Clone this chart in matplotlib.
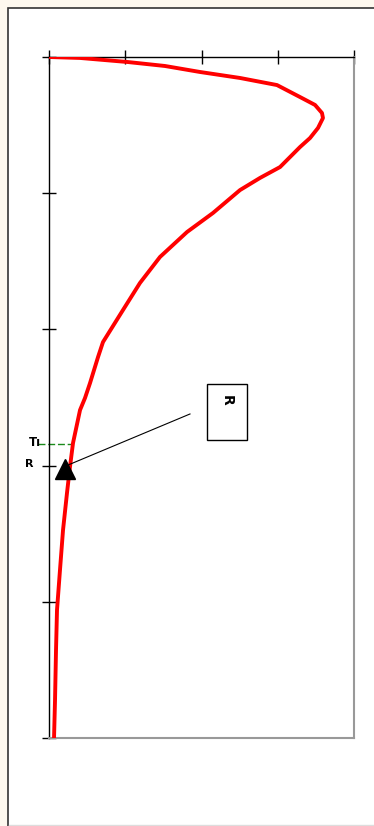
import matplotlib
matplotlib.use("Agg")
import matplotlib.pyplot as plt
from matplotlib.patches import Rectangle
from matplotlib.lines import Line2D

# Curve data: horizontal value (x) versus depth (y, downward)
curve_x = [0.0, 0.407, 1.036, 1.521, 1.980, 2.505, 2.990, 3.292, 3.489, 3.580, 3.593,
           3.528, 3.423, 3.292, 3.030, 2.767, 2.505, 2.151, 1.810, 1.456, 1.193, 0.970,
           0.708, 0.643, 0.538, 0.472, 0.407, 0.315, 0.275, 0.236, 0.184, 0.144, 0.105,
           0.092, 0.079, 0.066]
curve_y = [0.0, 0.007, 0.037, 0.066, 0.110, 0.154, 0.206, 0.294, 0.352, 0.411, 0.448,
           0.521, 0.595, 0.661, 0.808, 0.888, 0.977, 1.145, 1.285, 1.468, 1.659, 1.858,
           2.093, 2.203, 2.394, 2.504, 2.592, 2.834, 3.010, 3.201, 3.473, 3.767, 4.060,
           4.354, 4.721, 5.000]

x_ticks = [0, 1, 2, 3, 4]
y_ticks = [0, 1, 2, 3, 4, 5]

marker_x, marker_y = 0.216, 3.025
level_T = 2.84
level_T_x = 0.315
label_R = "R"
label_T = "Tı"
box_label = "R"

fig = plt.figure(figsize=(3.74, 8.26), dpi=100)
fig.patch.set_facecolor('#fdf8ee')

# inner white panel with dark border (left and top visible)
W, H = 374.0, 826.0
panel = Rectangle((8 / W, -5 / H), (W + 10) / W, (826 - 8 + 5) / H,
                  transform=fig.transFigure, facecolor='white',
                  edgecolor='#333333', linewidth=1.2, zorder=-10)
fig.add_artist(panel)
fig.add_artist(Line2D([9 / W, 1], [1.2 / H, 1.2 / H], transform=fig.transFigure,
                      color='#dddddd', lw=1.0, zorder=-9))

ax = fig.add_axes([49 / W, (826 - 738) / H, 305 / W, 681 / H])
ax.set_zorder(1)
ax.set_facecolor('white')

ax.plot(curve_x, curve_y, color='red', lw=2.8, solid_joinstyle='round', zorder=3)

ax.set_xlim(0, 4)
ax.set_ylim(5, 0)

ax.xaxis.tick_top()
ax.set_xticks(x_ticks)
ax.set_yticks(y_ticks)
ax.set_xticklabels([])
ax.set_yticklabels([])
ax.tick_params(axis='both', direction='inout', length=10, width=1, color='black')

for s in ['left', 'top']:
    ax.spines[s].set_color('black')
    ax.spines[s].set_linewidth(1.0)
for s in ['right', 'bottom']:
    ax.spines[s].set_color('#999999')
    ax.spines[s].set_linewidth(1.5)

# green dashed level line
ax.plot([-0.144, level_T_x], [level_T, level_T], color='#1a8a1a', lw=1.0,
        ls=(0, (5, 2)), clip_on=False, zorder=2)

# marker
ax.plot([marker_x], [marker_y], marker='^', color='black', markersize=14, zorder=4)

# connector line
ax.plot([1.849, 0.249], [2.621, 2.996], color='black', lw=0.8, zorder=3)

# annotation box
ax.add_patch(Rectangle((2.072, 2.401), 0.525, 0.411, facecolor='white',
                       edgecolor='black', lw=1.0, zorder=3))
ax.text(2.33, 2.52, box_label, rotation=270, ha='center', va='center',
        fontsize=10, fontweight='bold', zorder=4)

# axis labels on the left
ax.text(-0.26, 2.99, label_R, ha='center', va='center', fontsize=8,
        fontweight='bold', clip_on=False)
ax.text(-0.18, 2.83, label_T, ha='center', va='center', fontsize=8.5,
        fontweight='bold', clip_on=False)

fig.savefig('out.png', dpi=100, facecolor=fig.get_facecolor())
